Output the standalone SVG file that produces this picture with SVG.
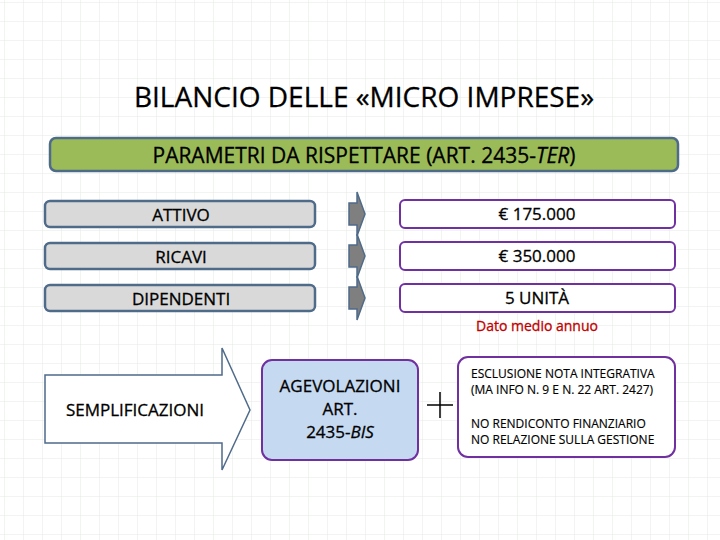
<svg xmlns="http://www.w3.org/2000/svg" width="720" height="540" viewBox="0 0 720 540">
<defs>
<pattern id="grid" width="19" height="19" patternUnits="userSpaceOnUse" x="5" y="3">
<path d="M19 0V19H0" fill="none" stroke="#e4e8e4" stroke-width="1"/>
</pattern>
<path id="sa" d="M0 0h8v-11l8 22-8 22v-11h-8z"/>
</defs>
<style>
text{font-family:"Open Sans","Liberation Sans",sans-serif;fill:#000;stroke:#000;stroke-width:0.3}
.l{fill:#d9d9d9;stroke:#4f6b8a;stroke-width:2.5}
.r{fill:#fff;stroke:#7030a0;stroke-width:2}
.a{fill:#7f7f7f;stroke:#4f6b8a;stroke-width:1.5}
.t{font-size:17px;text-anchor:middle}
.s{font-size:12px;stroke-width:0.15}
</style>
<rect width="720" height="540" fill="#fff"/>
<rect width="720" height="540" fill="url(#grid)"/>
<g id="title"><text x="364" y="107" class="t" style="font-size:28px">BILANCIO DELLE «MICRO IMPRESE»</text></g>
<g id="param"><rect x="50" y="138" width="628" height="33" rx="6" fill="#9bbb59" stroke="#4f6b8a" stroke-width="2.5"/>
<text x="364" y="163" class="t" style="font-size:21px">PARAMETRI DA RISPETTARE (ART. 2435-<tspan font-style="italic">TER</tspan>)</text></g>
<g id="attivo"><rect x="45" y="201" width="270" height="26" rx="5" class="l"/><text x="181" y="221" class="t">ATTIVO</text></g>
<g id="ricavi"><rect x="45" y="243" width="270" height="26" rx="5" class="l"/><text x="181" y="263" class="t">RICAVI</text></g>
<g id="dip"><rect x="45" y="285" width="270" height="26" rx="5" class="l"/><text x="181" y="305" class="t">DIPENDENTI</text></g>
<g id="v1"><rect x="400" y="200" width="275" height="28" rx="5" class="r"/><text x="537" y="220" class="t">€ 175.000</text></g>
<g id="v2"><rect x="400" y="242" width="275" height="28" rx="5" class="r"/><text x="537" y="262" class="t">€ 350.000</text></g>
<g id="v3"><rect x="400" y="284" width="275" height="28" rx="5" class="r"/><text x="537" y="304" class="t">5 UNITÀ</text></g>
<g id="connectors">
<use href="#sa" x="349" y="203" class="a"/>
<use href="#sa" x="349" y="245" class="a"/>
<use href="#sa" x="349" y="287" class="a"/>
</g>
<g id="note"><text x="537" y="331" class="t" style="font-size:14px;fill:#c00000;stroke:#c00000">Dato medio annuo</text></g>
<g id="sempl"><path d="M45 375H222V348L250 410 222 470V443H45Z" fill="#fff" stroke="#4f6b8a" stroke-width="1.5"/>
<text x="135" y="416" class="t">SEMPLIFICAZIONI</text></g>
<g id="agev"><rect x="262" y="360" width="156" height="100" rx="10" fill="#c5d9f1" stroke="#7030a0" stroke-width="2"/>
<text x="340" y="392" class="t">AGEVOLAZIONI</text><text x="340" y="415" class="t">ART.</text><text x="340" y="438" class="t">2435-<tspan font-style="italic">BIS</tspan></text></g>
<g id="plus"><path d="M440 392v26M427 405h26" stroke="#000" stroke-width="1.5"/></g>
<g id="escl"><rect x="458" y="357" width="217" height="100" rx="10" fill="#fff" stroke="#7030a0" stroke-width="2"/>
<text x="471" y="378" class="s">ESCLUSIONE NOTA INTEGRATIVA</text>
<text x="471" y="394" class="s">(MA INFO N. 9 E N. 22 ART. 2427)</text>
<text x="471" y="428" class="s">NO RENDICONTO FINANZIARIO</text>
<text x="471" y="444" class="s">NO RELAZIONE SULLA GESTIONE</text></g>
</svg>
